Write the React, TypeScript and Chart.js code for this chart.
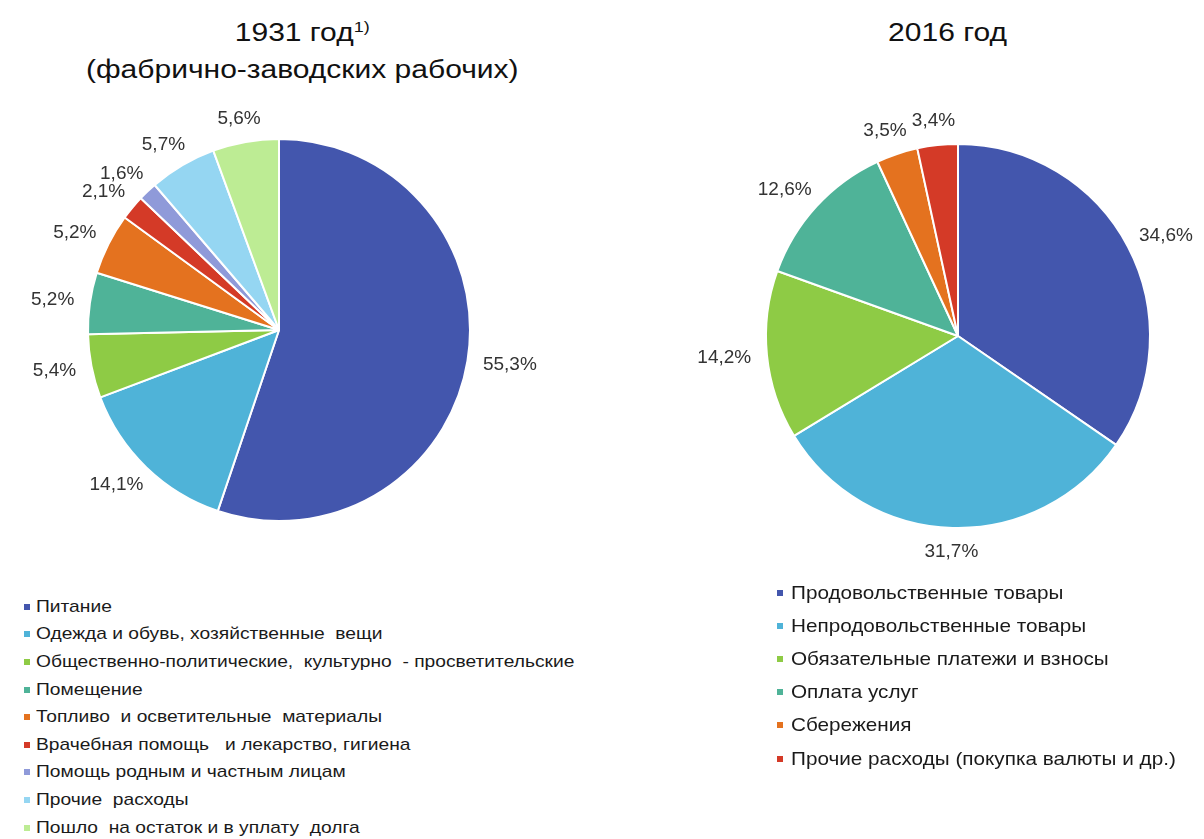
import React, { useEffect, useRef } from "react";
import { Chart, registerables } from "chart.js";

Chart.register(...registerables);

const labels1931 = [
  "Питание",
  "Одежда и обувь, хозяйственные  вещи",
  "Общественно-политические,  культурно  - просветительские",
  "Помещение",
  "Топливо  и осветительные  материалы",
  "Врачебная помощь   и лекарство, гигиена",
  "Помощь родным и частным лицам",
  "Прочие  расходы",
  "Пошло  на остаток и в уплату  долга",
];
const values1931 = [55.3, 14.1, 5.4, 5.2, 5.2, 2.1, 1.6, 5.7, 5.6];
const colors1931 = ["#4356ad", "#4fb3d8", "#8ecb45", "#4fb398", "#e4721f", "#d43a27", "#8f9ad9", "#95d6f2", "#bdec94"];

const labels2016 = [
  "Продовольственные товары",
  "Непродовольственные товары",
  "Обязательные платежи и взносы",
  "Оплата услуг",
  "Сбережения",
  "Прочие расходы (покупка валюты и др.)",
];
const values2016 = [34.6, 31.7, 14.2, 12.6, 3.5, 3.4];
const colors2016 = ["#4356ad", "#4fb3d8", "#8ecb45", "#4fb398", "#e4721f", "#d43a27"];

const FONT = "'Liberation Sans', Arial, sans-serif";

const fmt = (v: number) => v.toFixed(1).replace(".", ",") + "%";

const outsideLabels = {
  id: "outsideLabels",
  afterDatasetsDraw(chart: any) {
    const ctx = chart.ctx;
    const meta = chart.getDatasetMeta(0);
    const data = chart.data.datasets[0].data as number[];
    ctx.save();
    ctx.font = `19px ${FONT}`;
    ctx.fillStyle = "#333333";
    ctx.textAlign = "center";
    ctx.textBaseline = "middle";
    meta.data.forEach((arc: any, i: number) => {
      const { x, y, startAngle, endAngle, outerRadius } = arc.getProps(
        ["x", "y", "startAngle", "endAngle", "outerRadius"],
        true
      );
      const mid = (startAngle + endAngle) / 2;
      const dx = Math.cos(mid);
      const dy = Math.sin(mid);
      const text = fmt(data[i]);
      const w = ctx.measureText(text).width;
      const h = 16;
      const pad = 16;
      const tx = x + dx * (outerRadius + pad) + (dx * w) / 2;
      const ty = y + dy * (outerRadius + pad) + (dy * h) / 2;
      ctx.fillText(text, tx, ty);
    });
    ctx.restore();
  },
};

function Pie({ values, colors, left, top, width, height, radius }: any) {
  const ref = useRef<HTMLCanvasElement>(null);
  useEffect(() => {
    const chart = new Chart(ref.current as HTMLCanvasElement, {
      type: "pie",
      data: {
        labels: values.map((_: number, i: number) => String(i)),
        datasets: [
          {
            data: values,
            backgroundColor: colors,
            borderColor: "#ffffff",
            borderWidth: 2,
            radius: radius,
          },
        ],
      },
      options: {
        responsive: false,
        animation: false,
        maintainAspectRatio: false,
        plugins: { legend: { display: false }, tooltip: { enabled: false }, title: { display: false } },
        layout: { padding: 0 },
      },
      plugins: [outsideLabels],
    });
    return () => chart.destroy();
  }, []);
  return (
    <canvas
      ref={ref}
      width={width}
      height={height}
      style={{ position: "absolute", left, top, width, height }}
    />
  );
}

function Legend({ labels, colors, left, top, rowH, fontSize, scaleX, markerSize, gap }: any) {
  return (
    <div style={{ position: "absolute", left, top }}>
      {labels.map((l: string, i: number) => (
        <div
          key={i}
          style={{
            position: "absolute",
            left: 0,
            top: i * rowH,
            height: rowH,
            display: "flex",
            alignItems: "center",
            whiteSpace: "pre",
          }}
        >
          <span
            style={{
              display: "inline-block",
              width: markerSize,
              height: markerSize,
              background: colors[i],
              marginRight: gap,
            }}
          />
          <span
            style={{
              fontFamily: FONT,
              fontSize,
              color: "#1a1a1a",
              display: "inline-block",
              transform: `scaleX(${scaleX})`,
              transformOrigin: "left center",
            }}
          >
            {l}
          </span>
        </div>
      ))}
    </div>
  );
}

const titleStyle: any = {
  display: "inline-block",
  transform: "scaleX(1.2)",
  transformOrigin: "center",
  whiteSpace: "pre",
};

export default function App() {
  const W1 = 600, H1 = 500;
  const c1 = { x: 279, y: 330 };
  const c2 = { x: 958, y: 336 };
  const titleBox: any = {
    position: "absolute",
    top: 14,
    width: 600,
    textAlign: "center",
    fontFamily: FONT,
    fontSize: 25,
    lineHeight: "37px",
    color: "#111",
  };
  return (
    <div
      style={{
        position: "fixed",
        left: 0,
        top: 0,
        width: 1204,
        height: 839,
        background: "#ffffff",
        overflow: "hidden",
      }}
    >
      <div style={{ ...titleBox, left: 2 }}>
        <div>
          <span style={titleStyle}>
            1931 год<sup style={{ fontSize: 15, lineHeight: 0, verticalAlign: "9px" }}>1)</sup>
          </span>
        </div>
        <div>
          <span style={titleStyle}>(фабрично-заводских рабочих)</span>
        </div>
      </div>
      <div style={{ ...titleBox, left: 648 }}>
        <span style={titleStyle}>2016 год</span>
      </div>
      <Pie values={values1931} colors={colors1931} left={c1.x - W1 / 2} top={c1.y - H1 / 2} width={W1} height={H1} radius={191} />
      <Pie values={values2016} colors={colors2016} left={c2.x - W1 / 2} top={c2.y - H1 / 2} width={W1} height={H1} radius={192} />
      <Legend
        labels={labels1931}
        colors={colors1931}
        left={24}
        top={593}
        rowH={27.6}
        fontSize={17}
        scaleX={1.13}
        markerSize={6}
        gap={6}
      />
      <Legend
        labels={labels2016}
        colors={colors2016}
        left={777}
        top={576}
        rowH={33.2}
        fontSize={19}
        scaleX={1.09}
        markerSize={6}
        gap={8}
      />
    </div>
  );
}
